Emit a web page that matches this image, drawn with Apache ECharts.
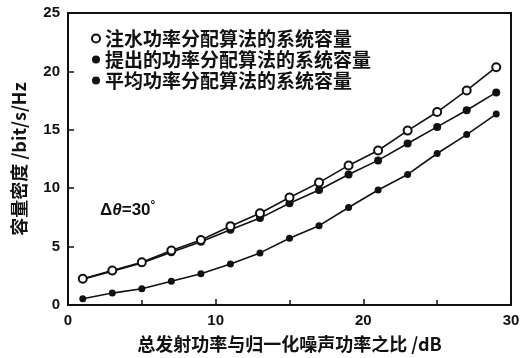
<!DOCTYPE html>
<html>
<head>
<meta charset="utf-8">
<style>
  html, body { margin: 0; padding: 0; background: #fff; }
  #chart { width: 524px; height: 358px; }
</style>
<script src="https://cdn.jsdelivr.net/npm/echarts@6/dist/echarts.min.js"></script>
</head>
<body>
<div id="chart"></div>
<script>
// Total transmit power to normalised noise power ratio (dB)
const snrDb = [1, 3, 5, 7, 9, 11, 13, 15, 17, 19, 21, 23, 25, 27, 29];

// System capacity (bit/s/Hz) for each allocation scheme
const waterFilling = [2.24, 2.95, 3.66, 4.66, 5.56, 6.75, 7.86, 9.2, 10.48, 11.95, 13.23, 14.93, 16.52, 18.37, 20.36];
const proposed     = [2.2, 2.9, 3.6, 4.51, 5.42, 6.45, 7.44, 8.71, 9.85, 11.18, 12.38, 13.83, 15.25, 16.67, 18.2];
const equalPower   = [0.54, 1.02, 1.39, 2.04, 2.67, 3.52, 4.46, 5.71, 6.79, 8.35, 9.85, 11.18, 12.97, 14.59, 16.35];

const seriesNames = [
  '注水功率分配算法的系统容量',
  '提出的功率分配算法的系统容量',
  '平均功率分配算法的系统容量'
];

const xTicks = [0, 10, 20, 30];
const yTicks = [0, 5, 10, 15, 20, 25];

const ink = '#111';
const cjk = '"Noto Sans CJK SC", sans-serif';
const latin = '"Liberation Sans", Arial, sans-serif';

const pairs = (ys) => snrDb.map((x, i) => [x, ys[i]]);

const chart = echarts.init(document.getElementById('chart'));
chart.setOption({
  animation: false,
  backgroundColor: '#fff',
  grid: { left: 68, right: 13, top: 13, bottom: 50, show: true, borderColor: ink, borderWidth: 2 },
  legend: {
    left: 86, top: 24, orient: 'vertical', itemGap: 2,
    itemWidth: 8, itemHeight: 8,
    textStyle: { fontFamily: cjk, fontWeight: 'bold', fontSize: 19, color: ink },
    data: [
      { name: seriesNames[0], icon: 'emptyCircle', itemStyle: { color: ink, borderColor: ink, borderWidth: 1.5 } },
      { name: seriesNames[1], icon: 'circle', itemStyle: { color: ink } },
      { name: seriesNames[2], icon: 'circle', itemStyle: { color: ink } }
    ]
  },
  xAxis: {
    type: 'value', min: 0, max: 30, interval: 10,
    name: '总发射功率与归一化噪声功率之比 /dB',
    nameLocation: 'middle', nameGap: 30,
    nameTextStyle: { fontFamily: cjk, fontWeight: 'bold', fontSize: 18, color: ink },
    axisLine: { lineStyle: { color: ink, width: 2 } },
    axisTick: { inside: true, length: 6, lineStyle: { color: ink, width: 1.5 } },
    minorTick: { show: true, splitNumber: 2, length: 5, lineStyle: { color: ink, width: 1.5 } },
    axisLabel: {
      fontFamily: latin, fontWeight: 'bold', fontSize: 15, color: ink, margin: 8,
      formatter: (v) => (xTicks.includes(v) ? String(v) : '')
    },
    splitLine: { show: false }
  },
  yAxis: {
    type: 'value', min: 0, max: 25, interval: 5,
    name: '容量密度 /bit/s/Hz',
    nameLocation: 'middle', nameGap: 40, nameRotate: 90,
    nameTextStyle: { fontFamily: cjk, fontWeight: 'bold', fontSize: 18, color: ink },
    axisLine: { lineStyle: { color: ink, width: 2 } },
    axisTick: { inside: true, length: 6, lineStyle: { color: ink, width: 1.5 } },
    axisLabel: {
      fontFamily: latin, fontWeight: 'bold', fontSize: 15, color: ink, margin: 8,
      formatter: (v) => (yTicks.includes(v) ? String(v) : '')
    },
    splitLine: { show: false }
  },
  graphic: [{
    type: 'text', left: 100, top: 200,
    style: {
      text: '{a|Δ}{b|θ}{a|=30}{c|°}',
      rich: {
        a: { fontFamily: latin, fontWeight: 'bold', fontSize: 17, fill: ink },
        b: { fontFamily: latin, fontWeight: 'bold', fontStyle: 'italic', fontSize: 17, fill: ink },
        c: { fontFamily: latin, fontWeight: 'bold', fontSize: 12, fill: ink, verticalAlign: 'top', padding: [0, 0, 8, 0] }
      }
    }
  }],
  series: [
    {
      name: seriesNames[0], type: 'line', data: pairs(waterFilling),
      symbol: 'emptyCircle', symbolSize: 8, z: 3,
      lineStyle: { color: ink, width: 1.6 },
      itemStyle: { color: ink, borderColor: ink, borderWidth: 2 }
    },
    {
      name: seriesNames[1], type: 'line', data: pairs(proposed),
      symbol: 'circle', symbolSize: 8, z: 2,
      lineStyle: { color: ink, width: 1.6 },
      itemStyle: { color: ink }
    },
    {
      name: seriesNames[2], type: 'line', data: pairs(equalPower),
      symbol: 'circle', symbolSize: 7, z: 2,
      lineStyle: { color: ink, width: 1.6 },
      itemStyle: { color: ink }
    }
  ]
});
</script>
</body>
</html>
